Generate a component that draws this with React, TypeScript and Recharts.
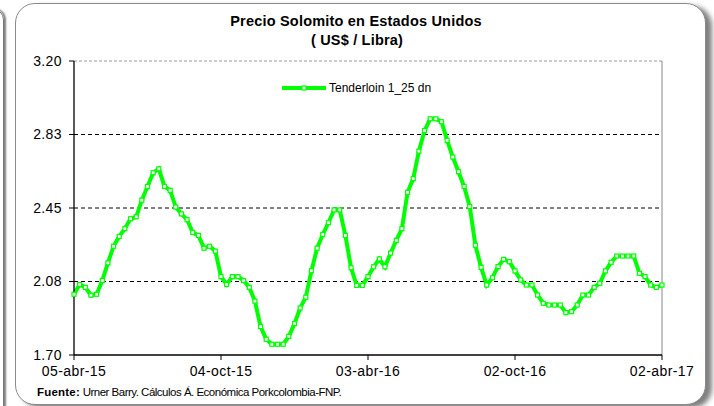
import React from 'react';
import { LineChart, Line, XAxis, YAxis, ReferenceLine } from 'recharts';

const seriesName = 'Tenderloin 1_25 dn';

// precio semanal US$/libra, 05-abr-15 .. 02-abr-17
const prices = [
  2.01, 2.06, 2.045, 2.005, 2.01, 2.08, 2.17, 2.255, 2.305, 2.345,
  2.395, 2.405, 2.49, 2.56, 2.63, 2.65, 2.56, 2.54, 2.455, 2.42,
  2.39, 2.325, 2.31, 2.245, 2.255, 2.23, 2.1, 2.06, 2.1, 2.1,
  2.08, 2.045, 1.975, 1.845, 1.78, 1.755, 1.755, 1.755, 1.795, 1.86,
  1.94, 1.995, 2.13, 2.245, 2.315, 2.375, 2.44, 2.44, 2.31, 2.145,
  2.055, 2.055, 2.1, 2.15, 2.19, 2.15, 2.22, 2.285, 2.345, 2.53,
  2.6, 2.74, 2.845, 2.905, 2.905, 2.89, 2.795, 2.71, 2.635, 2.56,
  2.457, 2.26, 2.147, 2.057, 2.094, 2.151, 2.188, 2.176, 2.129, 2.083,
  2.057, 2.057, 2.006, 1.964, 1.955, 1.955, 1.955, 1.916, 1.921, 1.955,
  2.006, 2.006, 2.045, 2.066, 2.129, 2.173, 2.205, 2.205, 2.205, 2.205,
  2.117, 2.1, 2.057, 2.045, 2.057,
];

const xTicks = [0, 26, 52, 78, 104];
const xTickLabels = ['05-abr-15', '04-oct-15', '03-abr-16', '02-oct-16', '02-abr-17'];
const yTicks = [1.7, 2.075, 2.45, 2.825, 3.2];
const yTickLabels = ['1.70', '2.08', '2.45', '2.83', '3.20'];

const data = prices.map((v, i) => ({ week: i, price: v }));

const GREEN = '#00ff00';
const FONT = '"Liberation Sans", Arial, sans-serif';

const SquareDot = (props: any) => {
  const { cx, cy, index } = props;
  if (cx == null || cy == null) return null;
  return <rect key={`d-${index}`} x={cx - 2} y={cy - 2} width={4} height={4} fill="#fff" stroke={GREEN} strokeWidth={1.2} />;
};

const tickStyle = { fill: '#000', fontSize: 14, fontFamily: FONT, letterSpacing: 0.4 };

const App: React.FC = () => {
  return (
    <div style={{ position: 'absolute', left: 0, top: 0, width: 714, height: 406, overflow: 'hidden', background: '#fff', fontFamily: FONT }}>
      {/* borde del panel vecino */}
      <div style={{ position: 'absolute', left: -20, top: 8, width: 22, height: 420, border: '1px solid #777', borderRadius: 14, boxShadow: '2px 0 2px rgba(0,0,0,0.5)' }} />
      {/* marco */}
      <div
        style={{
          position: 'absolute',
          left: 15,
          top: 3,
          width: 689,
          height: 400,
          border: '1px solid #8a8a8a',
          borderRadius: 20,
          boxShadow: '6px 3px 5px rgba(0,0,0,0.5)',
          background: '#fff',
        }}
      />
      <div style={{ position: 'absolute', left: 0, top: 12, width: 714, textAlign: 'center', fontWeight: 'bold', fontSize: 14.5, lineHeight: '19px', letterSpacing: 0.2, color: '#000' }}>
        <div style={{ marginLeft: -2 }}>Precio Solomito en Estados Unidos</div>
        <div>( US$ / Libra)</div>
      </div>
      <div style={{ position: 'absolute', left: 0, top: 0 }}>
        <LineChart width={714} height={406} data={data} margin={{ top: 61, right: 52, left: 34, bottom: 31 }}>
          <XAxis
            type="number"
            dataKey="week"
            domain={[0, 104]}
            ticks={xTicks}
            tickFormatter={(v: number) => xTickLabels[xTicks.indexOf(v)]}
            axisLine={{ stroke: '#000', strokeWidth: 1.3 }}
            tickLine={{ stroke: '#000' }}
            tickSize={5}
            tickMargin={6}
            height={20}
            tick={tickStyle}
            interval={0}
          />
          <YAxis
            type="number"
            domain={[1.7, 3.2]}
            ticks={yTicks}
            tickFormatter={(v: number) => yTickLabels[yTicks.indexOf(v)]}
            axisLine={{ stroke: '#000', strokeWidth: 1.3 }}
            tickLine={{ stroke: '#000' }}
            tickSize={5}
            tickMargin={7}
            width={40}
            tick={tickStyle}
            interval={0}
          />
          {yTicks.slice(1, 4).map((t) => (
            <ReferenceLine key={t} y={t} stroke="#000" strokeDasharray="4 3" strokeWidth={1} />
          ))}
          <ReferenceLine y={yTicks[4]} stroke="#999" strokeDasharray="3 2" strokeWidth={1} />
          <ReferenceLine x={xTicks[4]} stroke="#888" strokeWidth={1} />
          <Line
            type="linear"
            dataKey="price"
            name={seriesName}
            stroke={GREEN}
            strokeWidth={4}
            dot={<SquareDot />}
            activeDot={false}
            isAnimationActive={false}
          />
        </LineChart>
      </div>
      {/* leyenda */}
      <div style={{ position: 'absolute', left: 281, top: 81, display: 'flex', alignItems: 'center', fontSize: 12, color: '#000' }}>
        <svg width={46} height={10}>
          <line x1={1} y1={5} x2={45} y2={5} stroke={GREEN} strokeWidth={4} />
          <rect x={21} y={3} width={4} height={4} fill="#fff" stroke={GREEN} strokeWidth={1.2} />
        </svg>
        <span style={{ marginLeft: 2 }}>{seriesName}</span>
      </div>
      <div style={{ position: 'absolute', left: 37, top: 386, fontSize: 11.5, color: '#000', whiteSpace: 'nowrap' }}>
        <span style={{ fontWeight: 'bold', letterSpacing: 0.2 }}>Fuente:</span>
        <span style={{ letterSpacing: -0.5 }}> Urner Barry. Cálculos Á. Económica Porkcolombia-FNP.</span>
      </div>
    </div>
  );
};

export default App;
